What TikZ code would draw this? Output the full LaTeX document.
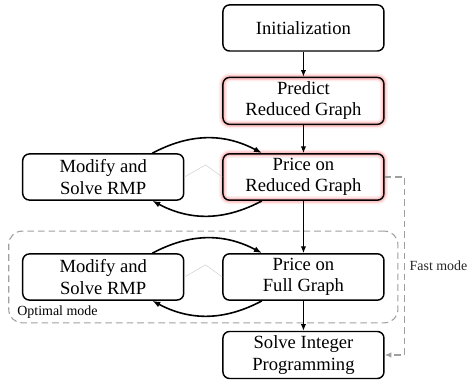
\documentclass[tikz,border=0pt]{standalone}
\usepackage{fontspec}
\setmainfont{Liberation Serif}
\usetikzlibrary{arrows.meta, positioning, fit}

\begin{document}
\begin{tikzpicture}[
    box/.style = {draw, line width=1.1pt, rounded corners=5pt, minimum width=4.26cm, minimum height=1.22cm, align=center, font=\fontsize{14}{16}\selectfont},
    glow/.style = {preaction={draw=red!8, line width=6pt}, preaction={draw=red!22, line width=3.6pt}},
    arrow/.style = {-{Latex[length=5pt, width=4pt]}, line width=0.8pt},
    loop/.style = {-{Latex[length=6pt, width=4.5pt]}, line width=1.2pt, bend left=28},
    modebox/.style = {draw=gray!75, dashed, dash pattern=on 5pt off 3pt, line width=0.8pt, rounded corners=10pt},
    hint/.style = {draw=gray!35, line width=0.4pt},
    every node/.style={font=\fontsize{10.5}{12}\selectfont}
  ]

  % Main column
  \node[box] (init) {Initialization};
  \node[box, glow, below=0.66cm of init] (predict) {Predict\\Reduced Graph};
  \node[box, glow, below=0.74cm of predict] (priceR) {Price on\\Reduced Graph};
  \node[box, below=1.38cm of priceR] (priceF) {Price on\\Full Graph};
  \node[box, below=0.79cm of priceF] (ip) {Solve Integer\\Programming};

  % RMP boxes on the left
  \node[box, left=1.0cm of priceR] (rmpR) {Modify and\\Solve RMP};
  \node[box, left=1.0cm of priceF] (rmpF) {Modify and\\Solve RMP};

  % Optimal mode frame
  \node[modebox, fit=(rmpF)(priceF), inner xsep=0.35cm, inner ysep=0.58cm] (optimal) {};
  \node[anchor=south west, inner sep=1pt] (optlabel) at ([shift={(0.2cm,0.08cm)}]optimal.south west) {Optimal mode};

  % Arrows down the column
  \draw[arrow] (init) -- (predict);
  \draw[arrow] (predict) -- (priceR);
  \draw[arrow] (priceR) -- (priceF);
  \draw[arrow] (priceF) -- (ip);

  % Loops between pricing and RMP
  \draw[loop] ([xshift=1.3cm]rmpR.north) to ([xshift=-1.1cm]priceR.north);
  \draw[loop] ([xshift=-1.1cm]priceR.south) to ([xshift=1.3cm]rmpR.south);
  \draw[loop] ([xshift=1.3cm]rmpF.north) to ([xshift=-1.1cm]priceF.north);
  \draw[loop] ([xshift=-1.1cm]priceF.south) to ([xshift=1.3cm]rmpF.south);

  % faint hints
  \draw[hint] (rmpR.east) -- ++(0.56cm,0.32cm) -- (priceR.west);
  \draw[hint] (rmpF.east) -- ++(0.56cm,0.32cm) -- (priceF.west);

  % Fast mode shortcut
  \draw[gray!75, dashed, dash pattern=on 5pt off 3pt, line width=0.8pt, -{Latex[length=5pt, width=4pt]}]
  (priceR.east) -- ++(0.53cm,0)
       |- node[pos=0.25, right, black!85] (fastlabel) {Fast mode} (ip.east);

  \useasboundingbox ([shift={(-8.03cm,-9.10cm)}]init.center) rectangle ([shift={(4.46cm,0.74cm)}]init.center);
\end{tikzpicture}
\end{document}
